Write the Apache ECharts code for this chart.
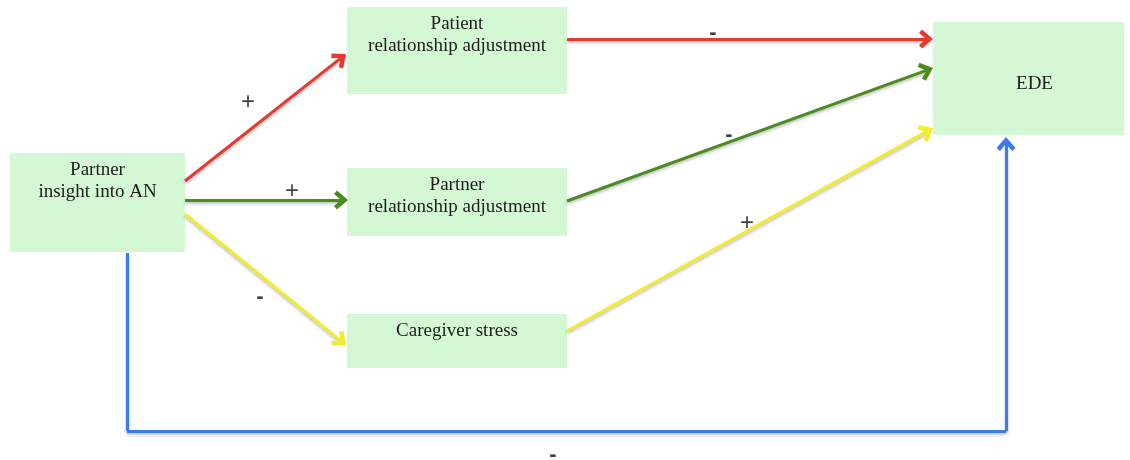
<!DOCTYPE html>
<html>
<head>
<meta charset="utf-8">
<script src="https://cdn.jsdelivr.net/npm/echarts@6/dist/echarts.min.js"></script>
<style>
  html, body { margin: 0; padding: 0; background: #fff; }
  #chart { width: 1130px; height: 460px; }
</style>
</head>
<body>
<div id="chart"></div>
<script>
// boxes of the path diagram (label lines + rectangle in page units)
const boxLabels = [
  ['Partner', 'insight into AN'],
  ['Patient', 'relationship adjustment'],
  ['Partner', 'relationship adjustment'],
  ['Caregiver stress'],
  ['EDE']
];
const boxRects = [
  [10, 153, 185, 252],
  [347, 7, 567, 94],
  [347, 168, 567, 236],
  [347, 314, 567, 368],
  [933, 22, 1124, 135]
];

// paths between boxes (last point = arrow tip), sign and where the sign sits
const pathPoints = [
  [[185, 181], [346, 54]],
  [[567, 39], [933, 39]],
  [[185, 200], [348, 200]],
  [[567, 201], [933, 68]],
  [[185, 214], [346, 345]],
  [[567, 331], [933, 128]],
  [[127, 253], [127, 431], [1006, 431], [1006, 137]]
];
const pathSigns = ['+', '-', '+', '-', '-', '+', '-'];
const signPoints = [[248, 102], [713, 33], [292, 191], [729, 135], [260, 297], [747, 223], [553, 455]];
const pathColors = ['#e8392f', '#e8392f', '#4a8d1e', '#4a8d1e', '#f3ec2c', '#f3ec2c', '#3b7bf0'];

const chart = echarts.init(document.getElementById('chart'));

const chevron = 'path://M5,0 L10,6 L8.2,7.6 L5,3.8 L1.8,7.6 L0,6 Z';
const headSize = [19, 14];

// split each path into straight segments, arrow head only on the last one
// (the head symbol is centred on the end point, so pull the end back by half its height)
const segments = [];
pathPoints.forEach((pts, i) => {
  for (let k = 0; k < pts.length - 1; k++) {
    const last = k === pts.length - 2;
    let a = pts[k], b = pts[k + 1];
    if (last) {
      const dx = b[0] - a[0], dy = b[1] - a[1];
      const len = Math.sqrt(dx * dx + dy * dy);
      b = [b[0] - dx / len * headSize[1] / 2, b[1] - dy / len * headSize[1] / 2];
    }
    segments.push({
      coords: [a, b],
      symbol: ['none', last ? chevron : 'none'],
      symbolSize: [0, headSize],
      lineStyle: { color: pathColors[i] }
    });
  }
});

const options = {
  animation: false,
  grid: { left: 0, right: 0, top: 0, bottom: 0 },
  xAxis: { type: 'value', min: 0, max: 1130, show: false },
  yAxis: { type: 'value', min: 0, max: 460, inverse: true, show: false },
  series: [
    {
      type: 'custom',
      z: 1,
      data: boxRects.map((r, i) => [r[0], r[1], r[2], r[3], i]),
      renderItem: (params, api) => {
        const p0 = api.coord([api.value(0), api.value(1)]);
        const p1 = api.coord([api.value(2), api.value(3)]);
        const lines = boxLabels[api.value(4)];
        const single = lines[0] === 'EDE';
        return {
          type: 'group',
          children: [
            {
              type: 'rect',
              shape: { x: p0[0], y: p0[1], width: p1[0] - p0[0], height: p1[1] - p0[1] },
              style: { fill: '#d4f7d4' }
            },
            {
              type: 'text',
              x: single ? (p0[0] + p1[0]) / 2 + 6 : (p0[0] + p1[0]) / 2,
              y: single ? (p0[1] + p1[1]) / 2 + 6 : p0[1] + 6,
              style: {
                text: lines.join('\n'),
                fill: '#1c1c1c',
                font: '19px "Liberation Serif", serif',
                lineHeight: 22,
                align: 'center',
                verticalAlign: single ? 'middle' : 'top'
              }
            }
          ]
        };
      }
    },
    {
      type: 'lines',
      coordinateSystem: 'cartesian2d',
      z: 3,
      symbolSize: [0, headSize],
      data: segments,
      lineStyle: {
        width: 3,
        opacity: 1,
        shadowColor: 'rgba(0,0,0,0.25)',
        shadowBlur: 3,
        shadowOffsetY: 2
      }
    },
    {
      type: 'scatter',
      z: 4,
      symbolSize: 0,
      data: signPoints.map((p, i) => ({
        value: p,
        label: pathSigns[i] === '+'
          ? { fontSize: 24, fontWeight: 'normal' }
          : { fontSize: 22, fontWeight: 'bold' }
      })),
      label: {
        show: true,
        position: 'inside',
        formatter: (p) => pathSigns[p.dataIndex],
        color: '#111',
        fontFamily: 'Liberation Sans'
      }
    }
  ]
};

chart.setOption(options);
</script>
</body>
</html>
